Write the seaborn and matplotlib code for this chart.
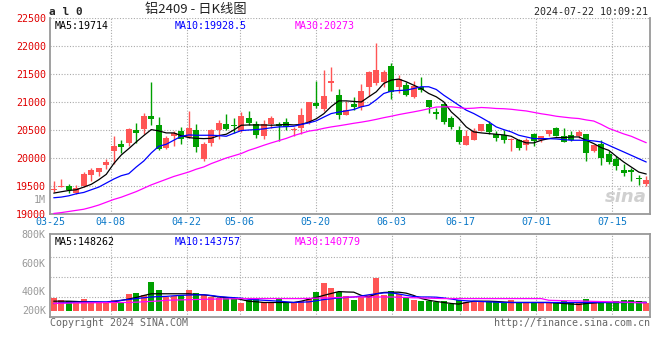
import numpy as np
import pandas as pd
import matplotlib
matplotlib.use("Agg")
import matplotlib.pyplot as plt
import seaborn as sns

# trading days 2024-03-25 .. 2024-07-22 (SHFE holidays removed)
holidays = ["2024-04-04", "2024-04-05", "2024-05-01", "2024-05-02", "2024-05-03", "2024-06-10"]
days = pd.bdate_range("2024-03-25", "2024-07-22")
days = days[~days.isin(pd.to_datetime(holidays))]
dates = [d.strftime("%m-%d") for d in days]

open_ = [19430, 19490, 19500, 19380, 19500, 19690, 19750, 19870, 20125, 20245,
         20270, 20500, 20520, 20750, 20590, 20185, 20390, 20480, 20380, 20500,
         19976, 20270, 20507, 20615, 20585, 20484, 20722, 20603, 20388, 20603,
         20603, 20640, 20496, 20543, 20645, 20985, 20878, 21343, 21122, 20764,
         20973, 20902, 21260, 21343, 21361, 21648, 21272, 21300, 21092, 21260,
         21033, 20824, 20973, 20722, 20496, 20233, 20317, 20484, 20603, 20424,
         20412, 20330, 20317, 20227, 20424, 20317, 20424, 20531, 20400, 20412,
         20388, 20424, 20125, 20245, 20066, 19982, 19791, 19779, 19642, 19529]
high = [19590, 19625, 19530, 19520, 19750, 19820, 19830, 19980, 20390, 20315,
        20535, 20620, 20810, 21355, 20740, 20390, 20480, 20545, 20835, 20600,
        20287, 20520, 20675, 20782, 20722, 20818, 20836, 20663, 20687, 20758,
        20650, 20722, 20555, 20900, 21000, 21380, 21570, 21624, 21224, 21009,
        21092, 21320, 21560, 22060, 21570, 21690, 21480, 21360, 21380, 21450,
        21033, 20900, 20985, 20746, 20567, 20496, 20543, 20603, 20663, 20484,
        20496, 20350, 20346, 20364, 20448, 20400, 20496, 20555, 20531, 20484,
        20496, 20436, 20227, 20317, 20125, 20042, 19887, 19827, 19690, 19672]
low = [19390, 19480, 19370, 19360, 19490, 19590, 19670, 19800, 19900, 20090,
       20210, 20260, 20425, 20585, 20140, 20155, 20220, 20250, 20350, 20110,
       19946, 20210, 20346, 20496, 20448, 20466, 20585, 20364, 20346, 20543,
       20305, 20507, 20388, 20424, 20615, 20900, 20842, 21200, 20700, 20764,
       20854, 20854, 21105, 21300, 21272, 21050, 21152, 21105, 21063, 21176,
       20806, 20705, 20603, 20525, 20245, 20233, 20317, 20484, 20436, 20305,
       20269, 20125, 20150, 20137, 20209, 20293, 20388, 20388, 20287, 20305,
       20364, 19946, 20108, 19869, 19899, 19779, 19684, 19588, 19510, 19493]
close = [19455, 19500, 19420, 19470, 19710, 19780, 19820, 19920, 20210, 20200,
         20520, 20450, 20750, 20690, 20160, 20365, 20450, 20340, 20535, 20200,
         20245, 20495, 20627, 20520, 20575, 20746, 20627, 20412, 20603, 20722,
         20580, 20545, 20520, 20764, 20997, 20925, 21104, 21373, 20764, 20866,
         20902, 21194, 21534, 21570, 21534, 21176, 21403, 21122, 21284, 21212,
         20902, 20794, 20645, 20555, 20287, 20388, 20484, 20603, 20466, 20364,
         20317, 20340, 20173, 20317, 20305, 20400, 20496, 20400, 20293, 20328,
         20466, 20090, 20227, 20000, 19922, 19851, 19731, 19755, 19618, 19600]

ma5 = [19373, 19397, 19420, 19433, 19480, 19530, 19612, 19708, 19900, 20054,
       20167, 20287, 20400, 20507, 20484, 20448, 20448, 20400, 20364, 20352,
       20346, 20352, 20400, 20424, 20500, 20585, 20590, 20590, 20590, 20585,
       20590, 20600, 20590, 20600, 20640, 20700, 20790, 20920, 21020, 21020,
       21010, 21000, 21093, 21182, 21331, 21391, 21409, 21361, 21300, 21240,
       21152, 21093, 21003, 20824, 20705, 20555, 20466, 20448, 20436, 20424,
       20412, 20388, 20317, 20270, 20270, 20317, 20346, 20364, 20364, 20376,
       20376, 20317, 20257, 20185, 20137, 20030, 19928, 19839, 19749, 19714]
ma10 = [19290, 19302, 19325, 19361, 19385, 19433, 19480, 19552, 19624, 19684,
        19720, 19839, 19946, 20090, 20209, 20245, 20317, 20388, 20412, 20406,
        20406, 20406, 20400, 20388, 20440, 20490, 20500, 20507, 20520, 20540,
        20555, 20560, 20567, 20600, 20627, 20663, 20730, 20794, 20820, 20842,
        20866, 20914, 20943, 21040, 21152, 21194, 21205, 21212, 21240, 21272,
        21272, 21224, 21122, 21033, 20943, 20854, 20794, 20722, 20645, 20555,
        20507, 20466, 20406, 20376, 20346, 20346, 20346, 20340, 20328, 20317,
        20317, 20317, 20305, 20287, 20227, 20167, 20108, 20048, 19988, 19928.5]
ma30 = [19010, 19025, 19045, 19065, 19085, 19120, 19160, 19210, 19260, 19300,
        19350, 19400, 19460, 19520, 19570, 19620, 19670, 19710, 19750, 19800,
        19840, 19900, 19950, 20000, 20040, 20080, 20137, 20180, 20227, 20270,
        20310, 20350, 20400, 20440, 20480, 20500, 20530, 20555, 20575, 20597,
        20620, 20640, 20663, 20690, 20720, 20746, 20775, 20800, 20824, 20850,
        20880, 20910, 20914, 20914, 20900, 20884, 20890, 20902, 20895, 20884,
        20880, 20870, 20854, 20840, 20815, 20790, 20770, 20746, 20730, 20715,
        20705, 20680, 20660, 20600, 20530, 20480, 20430, 20388, 20330, 20273]

volume = [193, 174, 158, 142, 184, 142, 142, 142, 174, 135,
          232, 241, 222, 351, 270, 200, 206, 216, 270, 238,
          216, 200, 190, 200, 190, 135, 167, 184, 145, 135,
          177, 151, 135, 158, 193, 254, 344, 293, 248, 206,
          174, 200, 216, 386, 222, 261, 232, 193, 167, 158,
          158, 151, 158, 132, 167, 145, 145, 145, 145, 158,
          145, 167, 145, 145, 145, 145, 135, 145, 158, 145,
          145, 177, 145, 158, 145, 158, 167, 167, 158, 135]
vol_ma5 = [158, 158, 158, 155, 151, 151, 148, 145, 151, 165,
           180, 195, 215, 232, 232, 232, 232, 232, 232, 225,
           222, 212, 200, 195, 190, 174, 158, 152, 145, 145,
           145, 145, 145, 158, 177, 195, 216, 235, 254, 250,
           248, 216, 200, 232, 245, 248, 248, 238, 215, 185,
           167, 155, 145, 135, 129, 145, 158, 158, 158, 155,
           150, 145, 145, 145, 145, 145, 145, 140, 135, 130,
           125, 135, 140, 145, 145, 145, 145, 147, 148, 148]
vol_ma10 = [135, 140, 145, 148, 150, 151, 151, 151, 158, 167,
            175, 184, 192, 200, 204, 206, 212, 216, 219, 221,
            222, 215, 205, 198, 193, 188, 177, 172, 167, 163,
            158, 152, 145, 148, 151, 162, 174, 182, 190, 195,
            200, 210, 222, 232, 241, 241, 230, 216, 205, 200,
            200, 198, 190, 180, 167, 162, 158, 155, 151, 148,
            145, 145, 145, 145, 145, 145, 145, 145, 145, 145,
            145, 145, 145, 145, 145, 145, 145, 145, 144, 144]
vol_ma30 = [135, 137, 139, 140, 141, 142, 143, 144, 145, 145,
            145, 148, 152, 156, 160, 167, 169, 171, 173, 175,
            177, 178, 180, 181, 182, 184, 184, 184, 184, 184,
            184, 184, 184, 184, 186, 188, 190, 192, 195, 198,
            200, 200, 200, 200, 200, 200, 198, 195, 192, 190,
            188, 186, 184, 184, 184, 184, 184, 184, 184, 184,
            184, 184, 184, 184, 184, 184, 167, 165, 163, 161,
            160, 158, 156, 154, 152, 150, 148, 146, 143, 141]

tick_dates = ["03-25", "04-08", "04-22", "05-06", "05-20", "06-03", "06-17", "07-01", "07-15"]
vol_labels = ["800K", "600K", "400K", "200K"]

RED = "#ff5555"
GREEN = "#00a000"
GRID = "#aaaaaa"
FRAME = "#999999"
MONO = "DejaVu Sans Mono"

sns.set_style("white")
plt.rcParams["font.family"] = [MONO, "DejaVu Sans"]

df = pd.DataFrame({"x": np.arange(len(dates)), "date": dates, "open": open_, "high": high,
                   "low": low, "close": close, "ma5": ma5, "ma10": ma10, "ma30": ma30,
                   "vol": np.array(volume) * 1000, "vma5": np.array(vol_ma5) * 1000,
                   "vma10": np.array(vol_ma10) * 1000, "vma30": np.array(vol_ma30) * 1000})
n = len(df)
colors = np.where(df["close"] >= df["open"], RED, GREEN)

fig = plt.figure(figsize=(6.6, 3.6), dpi=100)
ax = fig.add_axes([50 / 660, 1 - 214 / 360, 600 / 660, 196 / 360])
axv = fig.add_axes([50 / 660, 1 - 317 / 360, 600 / 660, 83 / 360], sharex=ax)

# sina spreads its date grid over n-1 steps
tick_pos = [-0.5 + dates.index(d) * n / (n - 1) for d in tick_dates]

# price panel
for y in range(19500, 23000, 500):
    ax.axhline(y, color=GRID, lw=0.8, ls=(0, (1, 1.5)), zorder=0)
for xp in tick_pos[1:]:
    ax.axvline(xp, color=GRID, lw=0.8, ls=(0, (1, 1.5)), zorder=0)

ax.vlines(df["x"], df["low"], df["high"], colors=colors, lw=1, zorder=2)
body_lo = np.minimum(df["open"], df["close"])
body_h = np.maximum(np.abs(df["close"] - df["open"]), 18)
ax.bar(df["x"], body_h, bottom=body_lo, width=0.8, color=colors, lw=0, zorder=3)

sns.lineplot(data=df, x="x", y="ma5", ax=ax, color="black", lw=0.9, zorder=4)
sns.lineplot(data=df, x="x", y="ma10", ax=ax, color="#0000ff", lw=0.9, zorder=4)
sns.lineplot(data=df, x="x", y="ma30", ax=ax, color="#ff00ff", lw=0.9, zorder=4)

ax.set_xlim(-0.5, n - 0.5)
ax.set_ylim(19000, 22500)
ax.set_yticks(range(19000, 23000, 500))
ax.set_yticklabels([str(v) for v in range(19000, 23000, 500)], color="#e00000", fontsize=7.2)
ax.set_xticks(tick_pos)
ax.set_xticklabels(tick_dates, color="#0a78c8", fontsize=7.2)
ax.tick_params(length=0, pad=3)
ax.tick_params(axis="x", pad=2.5)
ax.set_xlabel("")
ax.set_ylabel("")
for side in ["left", "bottom", "right"]:
    ax.spines[side].set_color(FRAME)
    ax.spines[side].set_linewidth(1.3)
ax.spines["top"].set_visible(False)

ax.text(0.008, 0.985, "MA5:19714", transform=ax.transAxes, color="black", fontsize=7.2, va="top")
ax.text(0.208, 0.985, "MA10:19928.5", transform=ax.transAxes, color="#0000ff", fontsize=7.2, va="top")
ax.text(0.408, 0.985, "MA30:20273", transform=ax.transAxes, color="#ff00ff", fontsize=7.2, va="top")
ax.text(0.995, 0.04, "sina", transform=ax.transAxes, color="#d0d0d0", fontsize=13,
        fontweight="bold", style="italic", family="DejaVu Sans", ha="right", va="bottom", zorder=1)

# volume panel
for y in [200000, 400000, 600000]:
    axv.axhline(y, color=GRID, lw=0.8, ls=(0, (1, 1.5)), zorder=0)
for xp in tick_pos[1:]:
    axv.axvline(xp, color=GRID, lw=0.8, ls=(0, (1, 1.5)), zorder=0)

vol_base = 62000
axv.bar(df["x"], df["vol"] - vol_base, bottom=vol_base, width=0.8, color=colors, lw=0, zorder=2)
sns.lineplot(data=df, x="x", y="vma5", ax=axv, color="black", lw=0.9, zorder=4)
sns.lineplot(data=df, x="x", y="vma10", ax=axv, color="#0000ff", lw=0.9, zorder=4)
sns.lineplot(data=df, x="x", y="vma30", ax=axv, color="#ff00ff", lw=0.9, zorder=4)

axv.set_ylim(0, 800000)
# sina prints the volume labels a little off their grid lines
axv.set_yticks([829000, 540000, 260000, 67000])
axv.set_yticklabels(vol_labels, color="#999999", fontsize=7.2)
axv.tick_params(length=0, pad=3)
axv.tick_params(axis="x", labelbottom=False)
axv.set_xlabel("")
axv.set_ylabel("")
for side in axv.spines:
    axv.spines[side].set_color(FRAME)
    axv.spines[side].set_linewidth(1.3)

axv.text(0.008, 0.96, "MA5:148262", transform=axv.transAxes, color="black", fontsize=7.2, va="top")
axv.text(0.208, 0.96, "MA10:143757", transform=axv.transAxes, color="#0000ff", fontsize=7.2, va="top")
axv.text(0.408, 0.96, "MA30:140779", transform=axv.transAxes, color="#ff00ff", fontsize=7.2, va="top")

# header and footer
fig.text(49 / 660, 1 - 12 / 360, "a l 0", fontsize=8, fontweight="bold", va="center", ha="left")
fig.text(196 / 660, 1 - 10 / 360, "铝2409 - 日K线图", fontsize=9.5, va="center", ha="center",
         family=["Noto Sans CJK SC", "DejaVu Sans"], color="#222222")
fig.text(648 / 660, 1 - 12 / 360, "2024-07-22 10:09:21", fontsize=7.2, va="center", ha="right")
fig.text(46 / 660, 1 - 200 / 360, "1M", fontsize=7.2, va="center", ha="right", color="#999999")
fig.text(50 / 660, 1 - 323 / 360, "Copyright 2024 SINA.COM", fontsize=7.2, va="center", ha="left", color="#666666")
fig.text(650 / 660, 1 - 323 / 360, "http://finance.sina.com.cn", fontsize=7.2, va="center", ha="right", color="#666666")

fig.savefig("out.png", dpi=100)
